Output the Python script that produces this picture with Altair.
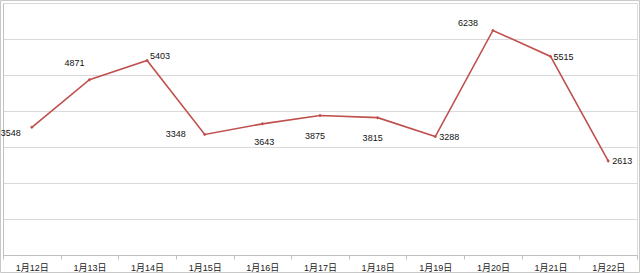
import altair as alt
import pandas as pd

dates = ["1月12日", "1月13日", "1月14日", "1月15日", "1月16日", "1月17日",
         "1月18日", "1月19日", "1月20日", "1月21日", "1月22日"]
values = [3548, 4871, 5403, 3348, 3643, 3875, 3815, 3288, 6238, 5515, 2613]

# label placement (style only): (dx, dy, align)
label_style = [(-31, 6, "left"), (-15, -17, "center"), (13, -4, "center"),
               (-29, 0, "center"), (2, 18, "center"), (-5, 20, "center"),
               (-5, 20, "center"), (4, 0, "left"), (-25, -7, "center"),
               (3, 1, "left"), (4, 0, "left")]

df = pd.DataFrame({"date": dates, "value": values})

FONT = "Liberation Sans, Noto Sans CJK SC"
RED = "#C0504D"
W, H = 634, 252

x = alt.X("date:N", sort=dates, title=None,
          scale=alt.Scale(paddingInner=0, paddingOuter=0),
          axis=alt.Axis(labelAngle=0, labelFontSize=9, labelColor="#222",
                        labelFont=FONT, tickColor="#bfbfbf", tickSize=4,
                        tickBand="extent", domainColor="#bfbfbf",
                        labelPadding=4, grid=False))
y = alt.Y("value:Q", title=None,
          scale=alt.Scale(domain=[0, 7000], nice=False),
          axis=alt.Axis(values=list(range(0, 7001, 1000)), labels=False,
                        ticks=False, domainColor="#bfbfbf",
                        gridColor="#d9d9d9", grid=True))

base = alt.Chart(df)
line = base.mark_line(color=RED, strokeWidth=1.6).encode(x=x, y=y)
pts = base.mark_point(shape="diamond", filled=True, color=RED, size=12, opacity=1).encode(x=x, y=y)

layers = [line, pts]
for d, (dx, dy, al) in zip(dates, label_style):
    layers.append(
        base.transform_filter(alt.datum.date == d)
        .mark_text(dx=dx, dy=dy, align=al, baseline="middle",
                   fontSize=9, font=FONT, color="#111")
        .encode(x=x, y=y, text="value:Q")
    )

border = alt.Chart(pd.DataFrame({"a": [0]})).mark_rect(
    filled=False, stroke="#c8c8c8", strokeWidth=1
).encode(x=alt.value(-2.5), x2=alt.value(636.5), y=alt.value(-2.5), y2=alt.value(269.5))
layers.append(border)

chart = alt.layer(*layers).properties(
    width=W, height=H,
    padding={"left": 3, "top": 3, "right": 3, "bottom": 18},
    autosize=alt.AutoSizeParams(type="none"),
).configure_view(stroke=None).configure(background="white")

chart.save("out.html", embed_options={"renderer": "svg", "actions": False})
